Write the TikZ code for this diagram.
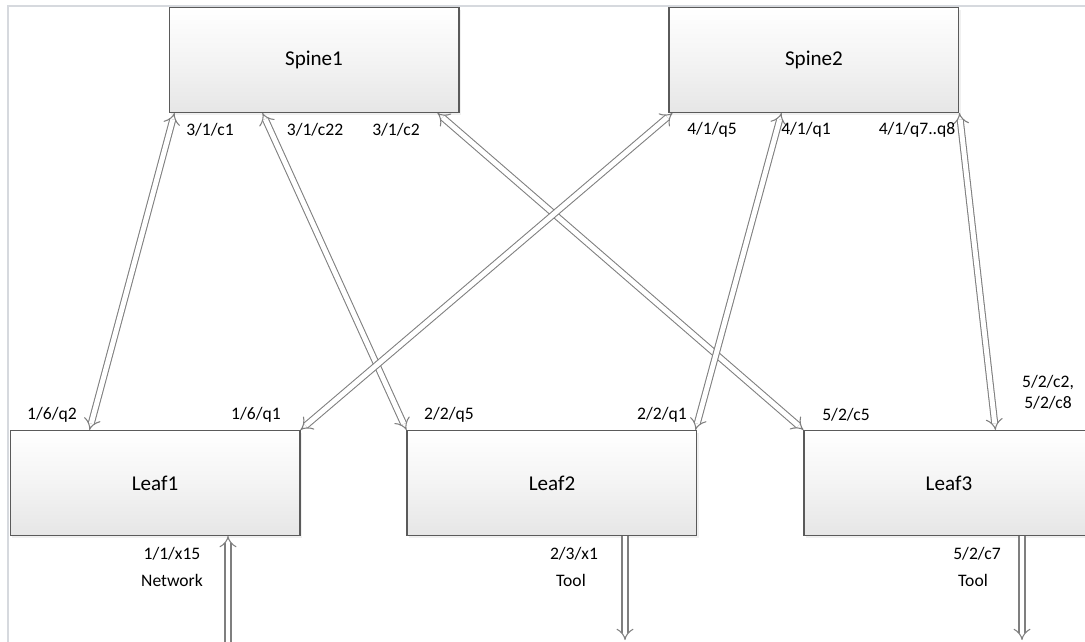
\documentclass[tikz,border=0pt]{standalone}
\usepackage{fontspec}
\setmainfont{Carlito}
\usepackage{xcolor}
\usepackage{tikz}
\usetikzlibrary{arrows.meta,calc,positioning,shadows}
\definecolor{frameline}{HTML}{D6D9DE}
\definecolor{boxedge}{HTML}{5A5A5A}
\definecolor{boxbottom}{HTML}{E6E6E6}
\definecolor{linkedge}{HTML}{7F7F7F}
\tikzset{
  switchbox/.style={draw=boxedge, line width=0.6pt, top color=white, bottom color=boxbottom,
    middle color=boxbottom!45, minimum width=5.8cm, minimum height=2.1cm, inner sep=0pt,
    font=\fontsize{12}{14}\selectfont,
    drop shadow={opacity=0.12, shadow xshift=1.2pt, shadow yshift=-1.2pt}},
  port/.style={font=\fontsize{10}{12}\selectfont, inner sep=1pt, align=center},
  link/.style={draw=linkedge, line width=0.6pt, double=white, double distance=2.8pt,
    {Implies[scale=1.15]}-{Implies[scale=1.15]}},
  uplink/.style={draw=linkedge, line width=0.6pt, double=white, double distance=2.8pt,
    -{Implies[scale=1.15]}},
  frame/.style={draw=frameline, line width=1.1pt},
}
\begin{document}
\begin{tikzpicture}[x=0.02cm, y=-0.02cm]
\useasboundingbox (0,0) rectangle (1085,642);
\clip (0,0) rectangle (1085,642);

\draw[frame] (8,642) -- (8,6) -- (1085,6);

%% =====================================================================
%% Spine and leaf switches
%% =====================================================================
\node[switchbox] (spine1) at (314,60) {Spine1};
\node[switchbox, right=4.18cm of spine1] (spine2) {Spine2};

\node[switchbox] (leaf1) at (155,483) {Leaf1};
\node[switchbox, right=2.12cm of leaf1] (leaf2) {Leaf2};
\node[switchbox, right=2.12cm of leaf2] (leaf3) {Leaf3};

\coordinate (net) at (228,650);
\coordinate (tool2) at (625,640);
\coordinate (tool3) at (1022,640);

%% =====================================================================
%% Links
%% =====================================================================
\draw[link] ($(spine1.south west)+(6,0)$) -- ($(leaf1.north west)+(80,0)$);
\draw[link] ($(spine1.south west)+(94,0)$) -- (leaf2.north west);
\draw[link] ($(spine1.south east)+(-22,0)$) -- (leaf3.north west);
\draw[link] ($(spine2.south west)+(4,0)$) -- (leaf1.north east);
\draw[link] ($(spine2.south west)+(113,0)$) -- ($(leaf2.north east)+(-2,0)$);
\draw[link] (spine2.south east) -- ($(leaf3.north west)+(192,0)$);

\draw[uplink] (net) -- (leaf1.south -| net);
\draw[uplink] (leaf2.south -| tool2) -- (tool2);
\draw[uplink] (leaf3.south -| tool3) -- (tool3);

%% =====================================================================
%% Port labels
%% =====================================================================
\node[port] (p31c1) at (210,130) {3/1/c1};
\node[port] (p31c22) at (315,130) {3/1/c22};
\node[port] (p31c2) at (396,130) {3/1/c2};
\node[port] (p41q5) at (712,130) {4/1/q5};
\node[port] (p41q1) at (806,130) {4/1/q1};
\node[port] (p41q7) at (917,130) {4/1/q7..q8};

\node[port] (p16q2) at (52,415) {1/6/q2};
\node[port] (p16q1) at (256,415) {1/6/q1};
\node[port] (p22q5) at (449,415) {2/2/q5};
\node[port] (p22q1) at (662,415) {2/2/q1};
\node[port] (p52c5) at (846,415) {5/2/c5};
\node[port] (p52c2) at (1048,392) {5/2/c2,\\5/2/c8};

\node[port] (p11x15) at (172,554) {1/1/x15};
\node[port] (netlbl) at (172,580) {Network};
\node[port] (p23x1) at (574,554) {2/3/x1};
\node[port] (tool2lbl) at (571,580) {Tool};
\node[port] (p52c7) at (977,554) {5/2/c7};
\node[port] (tool3lbl) at (973,580) {Tool};

\end{tikzpicture}
\end{document}
